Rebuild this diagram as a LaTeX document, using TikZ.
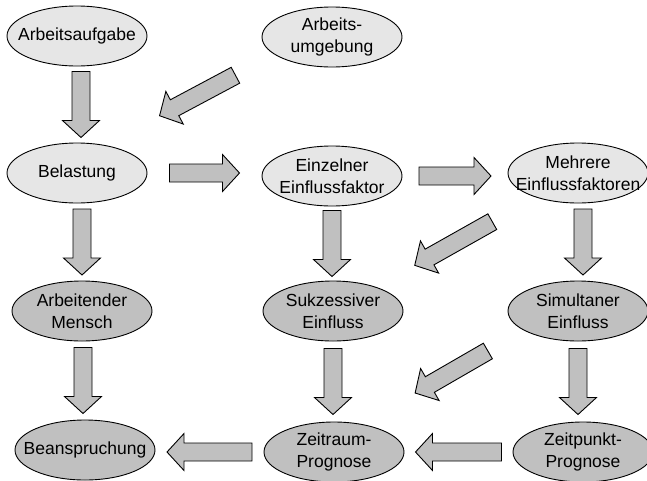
\documentclass[tikz,border=0pt]{standalone}
\usepackage{fontspec}
\setmainfont{Liberation Sans}
\usepackage{xcolor}
\usepackage{tikz}
\usetikzlibrary{shapes.geometric, calc}
\definecolor{lightcolor}{RGB}{230,230,230}
\definecolor{darkcolor}{RGB}{192,192,192}
\definecolor{arrowcolor}{RGB}{192,192,192}

\tikzset{
  zustand/.style={draw, ellipse, minimum width=140pt, minimum height=60pt, inner sep=0pt, line width=0.9pt},
  beschr/.style={align=center, font=\fontsize{17.5}{21.5}\selectfont, inner sep=0pt},
  blockpfeil/.style={draw, fill=arrowcolor, line width=0.9pt, line join=miter}
}

% block arrow: [offset]{length}{from}{to}, centred between from and to
\newcommand{\blockarrow}[4][0,0]{%
  \path let \p1=(#3), \p2=(#4), \n1={atan2(\y2-\y1,\x2-\x1)} in
    ($(\p1)!0.5!(\p2)+(#1)$) coordinate (mitte) \pgfextra{\xdef\pfeilwinkel{\n1}};
  \draw[blockpfeil, shift={(mitte)}, rotate=\pfeilwinkel]
    ({-#2/2*1pt},-9pt) -- ({(#2/2-17)*1pt},-9pt) -- ({(#2/2-17)*1pt},-18.5pt)
    -- ({#2/2*1pt},0pt) -- ({(#2/2-17)*1pt},18.5pt) -- ({(#2/2-17)*1pt},9pt)
    -- ({-#2/2*1pt},9pt) -- cycle;
}

\begin{document}
\begin{tikzpicture}[x=1pt, y=-1pt]
    \useasboundingbox (0,0) rectangle (647,480);
    \clip (0,0) rectangle (647,480);

    % Einwirkungen
    \node[zustand, fill=lightcolor] (aufgabe) at (77,36) {};
    \node[beschr] (aufgabe-t) at (aufgabe) {Arbeitsaufgabe};
    \node[zustand, fill=lightcolor] (umgebung) at (332,37) {};
    \node[beschr] (umgebung-t) at (umgebung) {Arbeits-\\umgebung};

    % Belastung und Einflussfaktoren
    \node[zustand, fill=lightcolor] (belastung) at (77,173) {};
    \node[beschr] (belastung-t) at (belastung) {Belastung};
    \node[zustand, fill=lightcolor] (einzeln) at (332,176) {};
    \node[beschr] (einzeln-t) at (einzeln) {Einzelner\\Einflussfaktor};
    \node[zustand, fill=lightcolor] (mehrere) at (578,173) {};
    \node[beschr] (mehrere-t) at (mehrere) {Mehrere\\Einflussfaktoren};

    % Mensch und Einfluss
    \node[zustand, fill=darkcolor] (mensch) at (82,311) {};
    \node[beschr] (mensch-t) at (mensch) {Arbeitender\\Mensch};
    \node[zustand, fill=darkcolor] (sukzessiv) at (333,311) {};
    \node[beschr] (sukzessiv-t) at (sukzessiv) {Sukzessiver\\Einfluss};
    \node[zustand, fill=darkcolor] (simultan) at (578,311) {};
    \node[beschr] (simultan-t) at (simultan) {Simultaner\\Einfluss};

    % Beanspruchung und Prognosen
    \node[zustand, fill=darkcolor] (beanspruchung) at (85,450) {};
    \node[beschr] (beanspruchung-t) at (beanspruchung) {Beanspruchung};
    \node[zustand, fill=darkcolor] (zeitraum) at (334,452) {};
    \node[beschr] (zeitraum-t) at (zeitraum) {Zeitraum-\\Prognose};
    \node[zustand, fill=darkcolor] (zeitpunkt) at (583,452) {};
    \node[beschr] (zeitpunkt-t) at (zeitpunkt) {Zeitpunkt-\\Prognose};

    % Pfeile
    \blockarrow[4,0]{66}{aufgabe.south}{aufgabe.south |- belastung.north}
    \blockarrow[-7,-9.5]{86}{umgebung}{belastung}
    \blockarrow{70}{belastung.east}{belastung.east -| einzeln.west}
    \blockarrow{72}{einzeln.east}{einzeln.east -| mehrere.west}
    \blockarrow[5,0]{66}{belastung.south}{belastung.south |- mensch.north}
    \blockarrow{66}{einzeln.south}{einzeln.south |- sukzessiv.north}
    \blockarrow[-2,1.5]{89}{mehrere}{sukzessiv}
    \blockarrow[5,0]{66}{mehrere.south}{mehrere.south |- simultan.north}
    \blockarrow[1,0]{66}{mensch.south}{mensch.south |- beanspruchung.north}
    \blockarrow{66}{sukzessiv.south}{sukzessiv.south |- zeitraum.north}
    \blockarrow[-4.5,-9.5]{84}{simultan}{zeitraum}
    \blockarrow{66}{simultan.south}{simultan.south |- zeitpunkt.north}
    \blockarrow{86}{zeitpunkt.west}{zeitpunkt.west -| zeitraum.east}
    \blockarrow{85}{zeitraum.west}{zeitraum.west -| beanspruchung.east}
\end{tikzpicture}
\end{document}
